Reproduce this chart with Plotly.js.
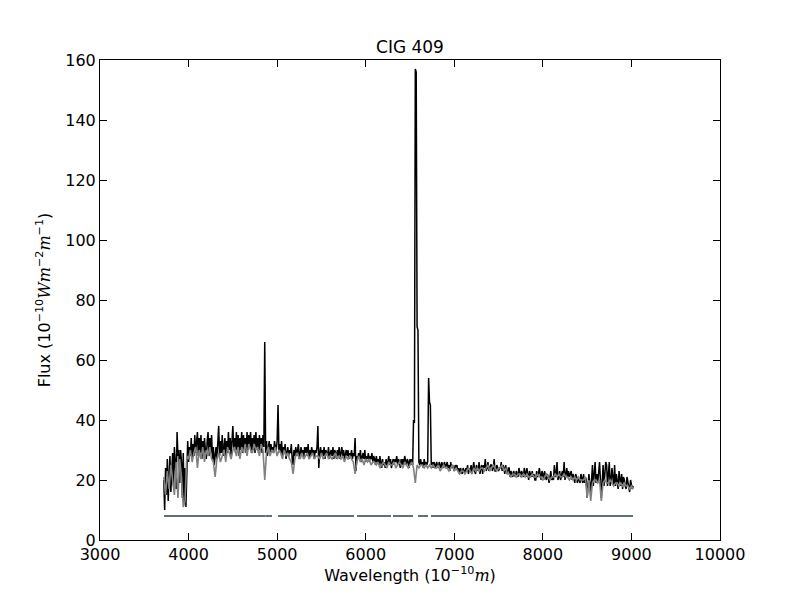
<!DOCTYPE html>
<html>
<head>
<meta charset="utf-8">
<script src="https://cdn.plot.ly/plotly-3.0.1.min.js"></script>
<style>html,body{margin:0;padding:0;background:#fff;}#chart{width:800px;height:600px;}</style>
</head>
<body>
<div id="chart"></div>
<script>
// Observed spectrum (black), sampled every 10 Å starting at 3720 Å
const obsStart = 3720;
const obsStep = 10;
const fluxObserved = [
 20,10,24,15,27,13,22,28,16,25,
 29,18,31,26,17,36,28,30,19,30,
 26,14,29,12,24,11,30,33,26,31,
 28,34,27,32,28,35,29,33,36,28,
 34,29,35,27,33,28,34,30,27,33,
 36,28,34,29,35,27,31,25,28,31,
 27,33,38,28,33,29,35,28,32,34,
 28,33,29,36,30,34,28,35,38,30,
 34,29,36,30,35,28,34,30,36,29,
 35,30,34,29,36,30,35,31,36,29,
 34,30,35,29,36,30,34,29,35,30,
 34,29,35,31,66,29,33,28,31,33,
 29,32,30,31,29,33,31,30,33,45,
 30,32,29,33,28,31,29,32,27,30,
 31,28,30,29,32,27,25,30,28,31,
 28,30,32,27,29,31,28,30,27,31,
 29,31,28,32,27,30,28,31,29,30,
 27,30,29,31,38,24,29,31,28,30,
 28,31,27,30,29,28,31,27,29,30,
 28,31,27,30,29,27,30,28,31,27,
 29,31,28,30,27,29,30,28,30,27,
 29,28,30,27,29,28,34,23,28,27,
 29,27,30,26,28,29,27,30,26,28,
 27,29,26,28,27,29,26,28,27,25,
 28,26,27,25,28,26,24,27,25,26,
 24,27,25,26,28,25,27,24,26,27,
 25,27,26,28,25,27,26,24,27,25,
 27,25,28,26,25,27,26,24,27,25,
 27,25,40,39,157,156,71,70,26,25,
 27,25,26,24,27,25,26,25,26,54,
 46,45,25,26,24,26,25,24,26,25,
 24,26,25,24,26,24,25,26,24,25,
 26,24,25,23,26,24,25,24,23,25,
 24,25,23,24,22,24,23,22,24,23,
 22,24,23,25,22,24,23,25,22,24,
 26,23,22,25,24,23,26,22,24,25,
 22,25,24,27,23,24,26,23,24,25,
 25,23,24,27,23,23,25,24,23,24,
 24,26,23,25,24,22,25,23,22,24,
 24,21,23,22,21,23,22,21,23,22,
 21,24,22,21,23,22,21,24,22,21,
 24,22,20,23,22,21,23,21,22,20,
 20,23,21,22,24,21,20,23,22,20,
 23,21,20,22,21,19,22,23,20,21,
 20,25,21,22,26,20,21,23,20,22,
 23,21,26,20,22,24,21,23,21,22,
 23,20,22,21,19,22,21,19,21,20,
 19,22,20,19,22,19,21,20,14,18,
 22,19,16,20,25,18,23,26,19,22,
 19,24,26,20,14,19,25,18,21,26,
 25,18,22,26,18,20,24,19,18,25,
 18,22,20,17,23,21,18,22,17,21,
 20,18,17,21,19,17,16,20,18,17,
 18
];
// Model fit (gray), sampled every 20 Å starting at 3720 Å
const modStart = 3720;
const modStep = 20;
const fluxModel = [
 21,15,23,17,25,19,15,26,14,27,
 21,11,13,28,27,30,26,29,31,24,
 30,27,31,26,30,28,31,27,26,21,
 27,29,26,28,30,26,31,29,27,30,
 31,28,31,27,31,29,32,28,32,30,
 29,32,30,31,28,32,30,20,29,31,
 28,30,29,31,28,30,29,27,30,28,
 29,27,26,22,27,29,28,27,29,27,
 28,29,27,28,29,27,28,28,27,29,
 27,28,29,27,28,27,28,29,27,28,
 27,28,26,28,27,28,27,26,22,26,
 28,26,27,25,27,26,27,25,26,26,
 25,26,24,25,26,25,24,26,25,25,
 26,24,25,26,25,24,26,25,24,25,
 26,24,19,25,24,25,25,24,25,24,
 25,24,25,24,24,25,23,24,25,24,
 24,23,24,25,23,24,23,22,23,23,
 22,23,24,23,22,24,23,24,23,24,
 24,23,24,25,23,24,25,24,23,24,
 24,25,23,24,22,22,21,22,22,21,
 22,22,21,22,21,22,21,21,22,21,
 21,22,21,21,20,21,22,21,20,21,
 21,22,21,22,21,21,22,21,21,20,
 21,20,21,20,21,20,20,20,21,14,
 20,13,19,20,20,19,20,13,19,20,
 19,19,20,19,18,19,19,18,19,18,
 19,18,18,17,18,17
];
// Mask segments (wavelength pairs) at constant level
const maskWl =   [3723, 4863, null, 4865, 4942, null, 5010, 5868, null, 5902, 6286, null, 6308, 6534, null, 6590, 6703, null, 6737, 9018];
const maskFlux = [8, 8, null, 8, 8, null, 8, 8, null, 8, 8, null, 8, 8, null, 8, 8, null, 8, 8];

const xTicks = [3000,4000,5000,6000,7000,8000,9000,10000];
const yTicks = [0,20,40,60,80,100,120,140,160];

const mathFont = "font-family:'DejaVu Serif';font-style:italic";

const traces = [
  {type:'scatter', mode:'lines', x0:obsStart, dx:obsStep, y:fluxObserved,
   line:{color:'#000000', width:1.5}, hoverinfo:'skip'},
  {type:'scatter', mode:'lines', x0:modStart, dx:modStep, y:fluxModel,
   line:{color:'#808080', width:1.6}, hoverinfo:'skip'},
  {type:'scatter', mode:'lines', x:maskWl, y:maskFlux, connectgaps:false,
   line:{color:'#5f7276', width:2}, hoverinfo:'skip'}
];

const axisCommon = {
  showgrid:false, zeroline:false, showline:true, linecolor:'#000', linewidth:1,
  mirror:'allticks', ticks:'inside', ticklen:7, tickwidth:1, tickcolor:'#000',
  tickfont:{family:'DejaVu Sans', size:16, color:'#000'}
};

const layout = {
  width:800, height:600,
  margin:{l:100, r:80, t:60, b:60},
  paper_bgcolor:'#fff', plot_bgcolor:'#fff',
  showlegend:false,
  font:{family:'DejaVu Sans', color:'#000'},
  title:{text:'CIG 409', font:{family:'DejaVu Sans', size:17, color:'#000'},
         x:0.5125, xanchor:'center', y:0.922, yanchor:'middle'},
  xaxis:Object.assign({}, axisCommon, {
    range:[3000,10000], tickvals:xTicks, ticktext:xTicks.map(String),
    title:{text:'Wavelength (10<sup>−10</sup><span style="'+mathFont+'">m</span>)',
           font:{family:'DejaVu Sans', size:16, color:'#000'}, standoff:6}
  }),
  yaxis:Object.assign({}, axisCommon, {
    range:[0,160], tickvals:yTicks, ticktext:yTicks.map(String),
    title:{text:'Flux (10<sup>−10</sup><span style="'+mathFont+'">Wm</span><sup>−2</sup><span style="'+mathFont+'">m</span><sup>−1</sup>)',
           font:{family:'DejaVu Sans', size:16, color:'#000'}, standoff:10}
  })
};

Plotly.newPlot('chart', traces, layout, {staticPlot:true, displayModeBar:false});
</script>
</body>
</html>
